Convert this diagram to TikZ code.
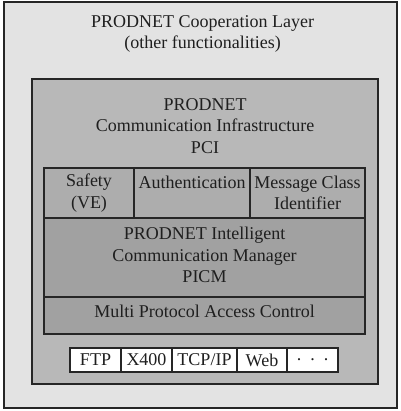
\documentclass[tikz,border=0pt]{standalone}
\usepackage{fontspec}
\setmainfont{Liberation Serif}
\begin{document}
\begin{tikzpicture}[x=1pt,y=-1pt,
  lbl/.style={align=center,font=\fontsize{18}{21.5}\selectfont,text=black!88,inner sep=0},
  frame/.style={draw=black!85,anchor=north west,inner sep=0,outer sep=0},
  outerbox/.style={frame,line width=1.2pt,fill=black!11},
  pcibox/.style={frame,line width=1.6pt,fill=black!28},
  midbox/.style={frame,line width=1.4pt,fill=black!32},
  darkbox/.style={frame,line width=1.4pt,fill=black!37},
  protobox/.style={frame,line width=1.4pt,fill=white}]
\useasboundingbox (0,0) rectangle (400,411);
\fill[white] (0,0) rectangle (400,411);
% outer cooperation layer
\node[outerbox,minimum width=393,minimum height=406] (coop) at (4,2) {};
\node[lbl] (cooptxt) at (202.5,34) {PRODNET Cooperation Layer\\(other functionalities)};
% PCI
\node[pcibox,minimum width=346,minimum height=305] (pci) at (32,79) {};
\node[lbl] (pcitxt) at (205,126) {PRODNET\\Communication Infrastructure\\PCI};
% three top boxes
\node[midbox,minimum width=90,minimum height=50] (safety) at (44,168) {};
\node[midbox,minimum width=116,minimum height=50] (auth) at (134,168) {};
\node[midbox,minimum width=115,minimum height=50] (mci) at (250,168) {};
\node[lbl] (safetytxt) at (89,193) {Safety\\(VE)};
\node[lbl] (authtxt) at (192,182) {Authentication};
\node[lbl] (mcitxt) at (307.5,193) {Message Class\\Identifier};
% PICM
\node[darkbox,minimum width=321,minimum height=79] (picm) at (44,218) {};
\node[lbl] (picmtxt) at (204.5,255) {PRODNET Intelligent\\Communication Manager\\PICM};
% Multi protocol
\node[darkbox,minimum width=321,minimum height=37] (mpac) at (44,297) {};
\node[lbl] (mpactxt) at (204.5,311) {Multi Protocol Access Control};
% protocol boxes
\node[protobox,minimum width=51,minimum height=24] (ftp) at (70,348) {};
\node[protobox,minimum width=51,minimum height=24] (x400) at (121,348) {};
\node[protobox,minimum width=65,minimum height=24] (tcp) at (172,348) {};
\node[protobox,minimum width=50,minimum height=24] (web) at (237,348) {};
\node[protobox,minimum width=51,minimum height=24] (dots) at (287,348) {};
\node[lbl] (ftptxt) at (ftp.center) {FTP};
\node[lbl] (x400txt) at (x400.center) {X400};
\node[lbl] (tcptxt) at (tcp.center) {TCP/IP};
\node[lbl] (webtxt) at (web.center) {Web};
\node[lbl] (dotstxt) at (dots.center) {.\ \ .\ \ .};
\end{tikzpicture}
\end{document}
